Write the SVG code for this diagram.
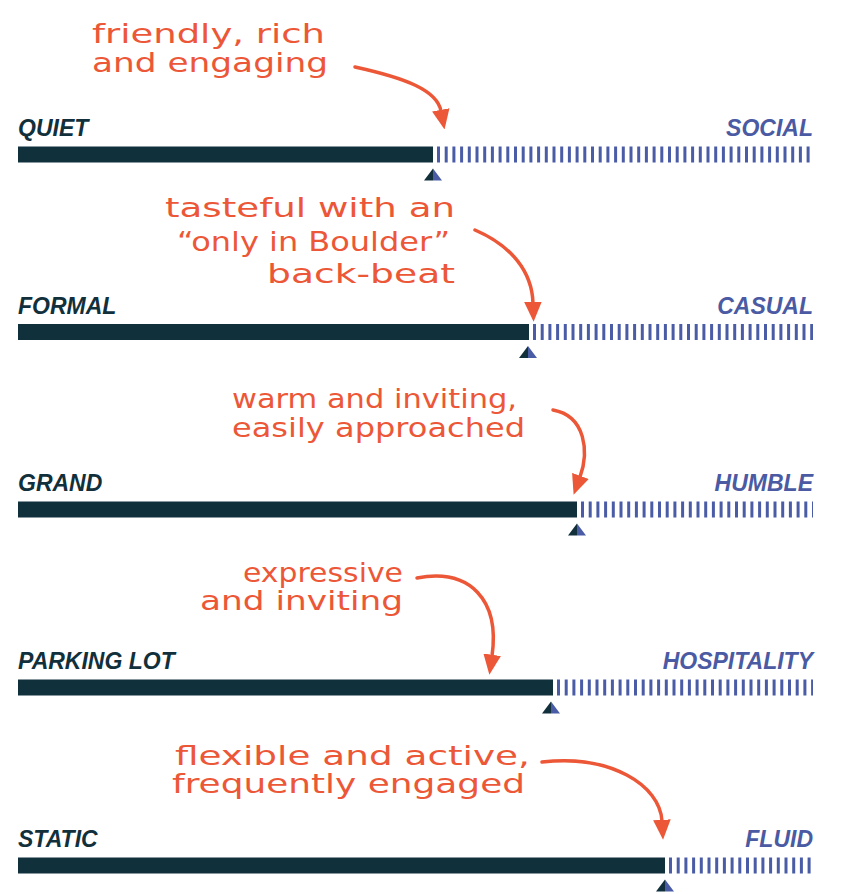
<svg xmlns="http://www.w3.org/2000/svg" width="843" height="894" viewBox="0 0 843 894">
<defs>
<style>
.lbl{font-family:"Liberation Sans",Arial,sans-serif;font-weight:bold;font-style:italic;font-size:23px}
.l{fill:#12303c}
.r{fill:#4a5aa3;text-anchor:end}
.bar{fill:#10303c}
.dash{stroke:#4b5ca6;stroke-width:16;stroke-dasharray:3 4.7;fill:none}
.td{fill:#12303c}
.tb{fill:#4b5ca6}
.note{font-family:"DejaVu Sans","Liberation Sans",sans-serif;font-size:27px;fill:#ec5737}
.arr{fill:none;stroke:#ec5737;stroke-width:3.5;stroke-linecap:round;marker-end:url(#ah)}
</style>
<marker id="ah" markerUnits="userSpaceOnUse" markerWidth="20" markerHeight="20" viewBox="0 -8 17 16" refX="1" refY="0" orient="auto">
<path d="M0,-7.5 L17,0 L0,7.5 z" fill="#ec5737"/>
</marker>
</defs>
<rect width="843" height="894" fill="#ffffff"/>

<g id="row-quiet-social">
<text class="lbl l" x="18" y="136">QUIET</text>
<text class="lbl r" x="813" y="136">SOCIAL</text>
<rect class="bar" x="18" y="146.5" width="415" height="16"/>
<line class="dash" x1="437" y1="154.5" x2="813" y2="154.5"/>
<polygon class="td" points="433,168.5 424,180.5 433,180.5"/>
<polygon class="tb" points="433,168.5 442,180.5 433,180.5"/>
</g>

<g id="row-formal-casual">
<text class="lbl l" x="18" y="313.5">FORMAL</text>
<text class="lbl r" x="813" y="313.5">CASUAL</text>
<rect class="bar" x="18" y="324" width="511" height="16"/>
<line class="dash" x1="533" y1="332" x2="813" y2="332"/>
<polygon class="td" points="528,346 519,358 528,358"/>
<polygon class="tb" points="528,346 537,358 528,358"/>
</g>

<g id="row-grand-humble">
<text class="lbl l" x="18" y="491">GRAND</text>
<text class="lbl r" x="813" y="491">HUMBLE</text>
<rect class="bar" x="18" y="501.5" width="559" height="16"/>
<line class="dash" x1="581" y1="509.5" x2="813" y2="509.5"/>
<polygon class="td" points="577,523.5 568,535.5 577,535.5"/>
<polygon class="tb" points="577,523.5 586,535.5 577,535.5"/>
</g>

<g id="row-parking-hospitality">
<text class="lbl l" x="18" y="669">PARKING LOT</text>
<text class="lbl r" x="813" y="669">HOSPITALITY</text>
<rect class="bar" x="18" y="679.5" width="535" height="16"/>
<line class="dash" x1="557" y1="687.5" x2="813" y2="687.5"/>
<polygon class="td" points="551,701.5 542,713.5 551,713.5"/>
<polygon class="tb" points="551,701.5 560,713.5 551,713.5"/>
</g>

<g id="row-static-fluid">
<text class="lbl l" x="18" y="847">STATIC</text>
<text class="lbl r" x="813" y="847">FLUID</text>
<rect class="bar" x="18" y="857.5" width="647" height="16"/>
<line class="dash" x1="669" y1="865.5" x2="813" y2="865.5"/>
<polygon class="td" points="665,879.5 656,891.5 665,891.5"/>
<polygon class="tb" points="665,879.5 674,891.5 665,891.5"/>
</g>

<g id="note-1">
<text class="note" x="92" y="43" textLength="233" lengthAdjust="spacingAndGlyphs">friendly, rich</text>
<text class="note" x="92" y="72" textLength="236" lengthAdjust="spacingAndGlyphs">and engaging</text>
</g>
<g id="note-2">
<text class="note" x="165" y="217" textLength="290" lengthAdjust="spacingAndGlyphs">tasteful with an</text>
<text class="note" x="177" y="251" textLength="273" lengthAdjust="spacingAndGlyphs">“only in Boulder”</text>
<text class="note" x="267" y="283" textLength="188" lengthAdjust="spacingAndGlyphs">back-beat</text>
</g>
<g id="note-3">
<text class="note" x="232" y="408" textLength="285" lengthAdjust="spacingAndGlyphs">warm and inviting,</text>
<text class="note" x="232" y="437" textLength="293" lengthAdjust="spacingAndGlyphs">easily approached</text>
</g>
<g id="note-4">
<text class="note" x="243" y="582" textLength="160" lengthAdjust="spacingAndGlyphs">expressive</text>
<text class="note" x="200" y="610" textLength="203" lengthAdjust="spacingAndGlyphs">and inviting</text>
</g>
<g id="note-5">
<text class="note" x="175" y="765" textLength="355" lengthAdjust="spacingAndGlyphs">flexible and active,</text>
<text class="note" x="172" y="793" textLength="353" lengthAdjust="spacingAndGlyphs">frequently engaged</text>
</g>

<g id="connectors">
<path class="arr" d="M355,67 C405,78 437,90 441,111"/>
<path class="arr" d="M475,230 C512,246 532,272 533,303"/>
<path class="arr" d="M553,410 C586,416 589,452 580,477"/>
<path class="arr" d="M417,578 C470,568 500,600 492,656"/>
<path class="arr" d="M542,762 C610,754 660,785 662,821"/>
</g>
</svg>
